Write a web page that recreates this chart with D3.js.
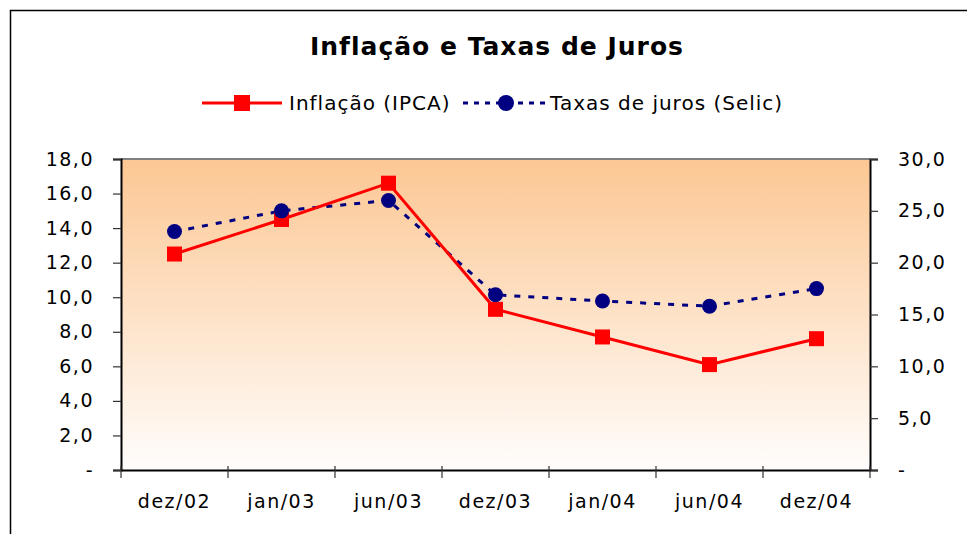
<!DOCTYPE html>
<html>
<head>
<meta charset="utf-8">
<title>Inflação e Taxas de Juros</title>
<script src="https://d3js.org/d3.v7.min.js"></script>
<style>
  body { margin: 0; background: #fff; }
  svg text { font-family: "DejaVu Sans", Verdana, sans-serif; fill: #000; }
</style>
</head>
<body>
<div id="chart"></div>
<script>
// data
const categories = ["dez/02", "jan/03", "jun/03", "dez/03", "jan/04", "jun/04", "dez/04"];
const ipca = [12.5, 14.5, 16.6, 9.3, 7.7, 6.1, 7.6];
const selic = [23.0, 25.0, 26.0, 16.9, 16.3, 15.8, 17.5];
const leftTicks = [0, 2, 4, 6, 8, 10, 12, 14, 16, 18];
const rightTicks = [0, 5, 10, 15, 20, 25, 30];

const W = 967, H = 534;
const m = { left: 121, right: 870, top: 159, bottom: 470 };

const svg = d3.select("#chart").append("svg")
  .attr("width", W).attr("height", H);

// chart frame (runs off the picture at right/bottom)
svg.append("rect")
  .attr("x", 10.5).attr("y", 10.5)
  .attr("width", 1000).attr("height", 1000)
  .attr("fill", "none").attr("stroke", "#000").attr("stroke-width", 1.5);

const defs = svg.append("defs");
const grad = defs.append("linearGradient").attr("id", "bg")
  .attr("x1", 0).attr("y1", 0).attr("x2", 0).attr("y2", 1);
grad.append("stop").attr("offset", "0%").attr("stop-color", "#fcc793");
grad.append("stop").attr("offset", "100%").attr("stop-color", "#fffdfc");

const x = d3.scaleBand().domain(categories).range([m.left, m.right]);
const yL = d3.scaleLinear().domain([0, 18]).range([m.bottom, m.top]);
const yR = d3.scaleLinear().domain([0, 30]).range([m.bottom, m.top]);
const fmt = v => v === 0 ? "-" : d3.format(".1f")(v).replace(".", ",");

svg.append("rect")
  .attr("x", m.left).attr("y", m.top)
  .attr("width", m.right - m.left).attr("height", m.bottom - m.top)
  .attr("fill", "url(#bg)");

// top border of plot
svg.append("line")
  .attr("x1", m.left).attr("x2", m.right)
  .attr("y1", m.top).attr("y2", m.top)
  .attr("stroke", "#808080").attr("stroke-width", 2);

// axes
const axL = svg.append("g").attr("transform", `translate(${m.left},0)`)
  .call(d3.axisLeft(yL).tickValues(leftTicks).tickFormat(fmt).tickSize(8).tickPadding(19));
const axR = svg.append("g").attr("transform", `translate(${m.right},0)`)
  .call(d3.axisRight(yR).tickValues(rightTicks).tickFormat(fmt).tickSize(8).tickPadding(20));
const axB = svg.append("g").attr("transform", `translate(0,${m.bottom})`)
  .call(d3.axisBottom(x).tickSize(0).tickPadding(25));

[axL, axR, axB].forEach(a => {
  a.select(".domain").attr("stroke", "#000").attr("stroke-width", 2);
  a.selectAll(".tick line").attr("stroke", "#333").attr("stroke-width", 1.2);
  a.selectAll("text").style("font-size", "19px").style("letter-spacing", "1.5px").attr("fill", "#000");
});

// category boundary ticks on the x axis
const bounds = d3.range(categories.length + 1).map(i => m.left + i * x.bandwidth());
svg.append("g").selectAll("line").data(bounds).join("line")
  .attr("x1", d => d).attr("x2", d => d)
  .attr("y1", m.bottom - 4).attr("y2", m.bottom + 8)
  .attr("stroke", "#333").attr("stroke-width", 1.2);

const cx = d => x(d) + x.bandwidth() / 2;

// Selic (right axis)
svg.append("path")
  .datum(selic)
  .attr("d", d3.line().x((d, i) => cx(categories[i])).y(d => yR(d)))
  .attr("fill", "none").attr("stroke", "#000080")
  .attr("stroke-width", 3).attr("stroke-dasharray", "6,8");

// IPCA (left axis)
svg.append("path")
  .datum(ipca)
  .attr("d", d3.line().x((d, i) => cx(categories[i])).y(d => yL(d)))
  .attr("fill", "none").attr("stroke", "#ff0000").attr("stroke-width", 3);

svg.append("g").selectAll("rect").data(ipca).join("rect")
  .attr("x", (d, i) => cx(categories[i]) - 7.5)
  .attr("y", d => yL(d) - 7.5)
  .attr("width", 15).attr("height", 15)
  .attr("fill", "#ff0000");

svg.append("g").selectAll("circle").data(selic).join("circle")
  .attr("cx", (d, i) => cx(categories[i]))
  .attr("cy", d => yR(d))
  .attr("r", 7.5)
  .attr("fill", "#000080");

// title
svg.append("text")
  .attr("x", 497).attr("y", 55)
  .attr("text-anchor", "middle")
  .style("font-size", "25px").style("font-weight", "bold").style("letter-spacing", "1px")
  .text("Inflação e Taxas de Juros");

// legend
const lg = svg.append("g").attr("transform", "translate(0,103)");
lg.append("line").attr("x1", 202).attr("x2", 282).attr("y1", 0).attr("y2", 0)
  .attr("stroke", "#ff0000").attr("stroke-width", 3);
lg.append("rect").attr("x", 234).attr("y", -8).attr("width", 16).attr("height", 16)
  .attr("fill", "#ff0000");
lg.append("text").attr("x", 289).attr("y", 7).style("font-size", "20px").style("letter-spacing", "1px")
  .text("Inflação (IPCA)");
lg.append("line").attr("x1", 463).attr("x2", 548).attr("y1", 0).attr("y2", 0)
  .attr("stroke", "#000080").attr("stroke-width", 3).attr("stroke-dasharray", "5,6");
lg.append("circle").attr("cx", 506).attr("cy", 0).attr("r", 8).attr("fill", "#000080");
lg.append("text").attr("x", 550).attr("y", 7).style("font-size", "20px").style("letter-spacing", "1px")
  .text("Taxas de juros (Selic)");
</script>
</body>
</html>
